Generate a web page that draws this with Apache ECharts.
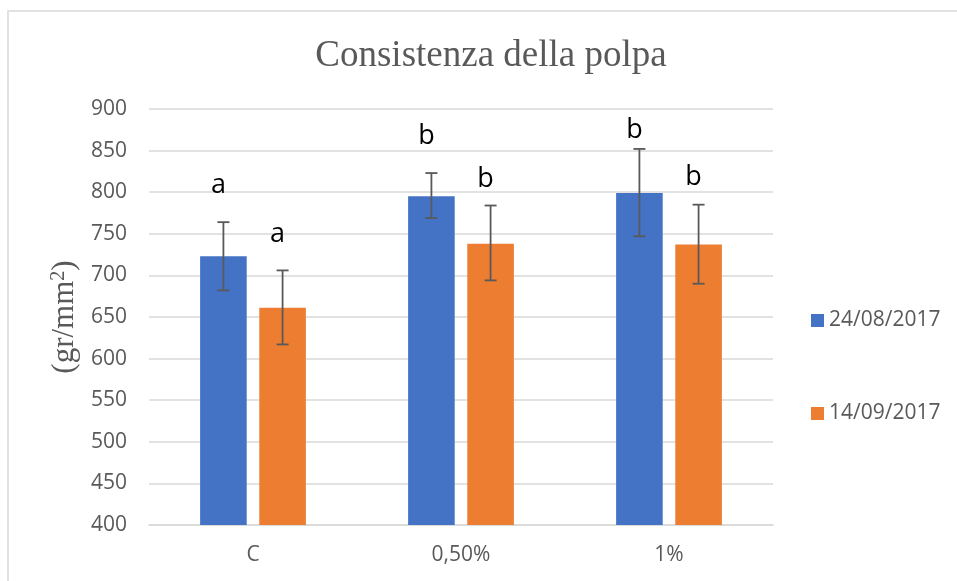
<!DOCTYPE html>
<html>
<head>
<meta charset="utf-8">
<title>Consistenza della polpa</title>
<script src="https://cdn.jsdelivr.net/npm/echarts@6/dist/echarts.min.js"></script>
<style>
    html, body { margin: 0; padding: 0; background: #fff; }
    #chart { width: 957px; height: 581px; }
</style>
</head>
<body>
<div id="chart"></div>
<script>
    // dati
    var categorie = ['C', '0,50%', '1%'];
    var date = ['24/08/2017', '14/09/2017'];
    var valori24 = [723, 795, 799];
    var valori14 = [661, 738, 737];
    // barre d'errore: minimo e massimo
    var errMin24 = [682, 769, 747];
    var errMax24 = [764, 823, 852];
    var errMin14 = [617, 694, 690];
    var errMax14 = [706, 784, 785];
    // lettere di significatività e altezza (in gr/mm2)
    var lettere24 = ['a', 'b', 'b'];
    var lettere14 = ['a', 'b', 'b'];
    var posLettere24 = [808, 867, 874];
    var posLettere14 = [749, 815, 818];
    var yTicks = [400, 450, 500, 550, 600, 650, 700, 750, 800, 850, 900];

    var colori = ['#4472C4', '#ED7D31'];
    var BAR_W = 0.224;   // frazione della categoria
    var BAR_GAP = 0.27;  // frazione della barra

    function erroriData(min, max, pos, lett) {
        return categorie.map(function (c, i) {
            return [i, min[i], max[i], pos[i], lett[i]];
        });
    }

    // disegna barra d'errore + lettera, spostata sulla barra giusta
    function makeRender(segno) {
        return function (params, api) {
            var band = api.size([1, 0])[0];
            var bw = band * BAR_W;
            var dx = segno * bw * (1 + BAR_GAP) / 2;
            var lo = api.coord([api.value(0), api.value(1)]);
            var hi = api.coord([api.value(0), api.value(2)]);
            var tp = api.coord([api.value(0), api.value(3)]);
            var x = lo[0] + dx;
            var cap = 6;
            var stile = { stroke: '#595959', lineWidth: 1.8 };
            return {
                type: 'group',
                children: [
                    { type: 'line', shape: { x1: x, y1: lo[1], x2: x, y2: hi[1] }, style: stile },
                    { type: 'line', shape: { x1: x - cap, y1: lo[1], x2: x + cap, y2: lo[1] }, style: stile },
                    { type: 'line', shape: { x1: x - cap, y1: hi[1], x2: x + cap, y2: hi[1] }, style: stile },
                    {
                        type: 'text',
                        x: x - 5,
                        y: tp[1],
                        style: {
                            text: api.value(4),
                            fill: '#000',
                            font: '27px "Open Sans", sans-serif',
                            textAlign: 'center',
                            textVerticalAlign: 'middle'
                        }
                    }
                ]
            };
        };
    }

    var myChart = echarts.init(document.getElementById('chart'));
    myChart.setOption({
        backgroundColor: '#fff',
        animation: false,
        graphic: [{
            type: 'rect',
            shape: { x: 8, y: 11, width: 1000, height: 700 },
            style: { fill: 'none', stroke: '#d9d9d9', lineWidth: 1.5 },
            silent: true
        }],
        title: {
            text: 'Consistenza della polpa',
            left: 486,
            textAlign: 'center',
            top: 33,
            textStyle: {
                fontFamily: '"Liberation Serif", "DejaVu Serif", serif',
                fontSize: 37,
                fontWeight: 'normal',
                color: '#595959'
            }
        },
        legend: {
            orient: 'vertical',
            left: 806,
            top: 305,
            itemWidth: 13,
            itemHeight: 13,
            itemGap: 72,
            icon: 'rect',
            data: date,
            textStyle: {
                fontFamily: '"Open Sans", sans-serif',
                fontSize: 21,
                color: '#595959'
            }
        },
        grid: { left: 149, right: 184, top: 109, bottom: 56 },
        xAxis: {
            type: 'category',
            data: categorie,
            axisLine: { lineStyle: { color: '#d9d9d9', width: 1.5 } },
            axisTick: { show: false },
            axisLabel: {
                margin: 20,
                fontFamily: '"Open Sans", sans-serif',
                fontSize: 21,
                color: '#595959'
            }
        },
        yAxis: {
            type: 'value',
            min: yTicks[0],
            max: yTicks[yTicks.length - 1],
            interval: 50,
            name: '(gr/mm{sup|2})',
            nameLocation: 'middle',
            nameGap: 66,
            nameRotate: 90,
            nameTextStyle: {
                fontFamily: '"Liberation Serif", "DejaVu Serif", serif',
                fontSize: 31,
                color: '#595959',
                rich: {
                    sup: {
                        fontFamily: '"Liberation Serif", "DejaVu Serif", serif',
                        fontSize: 20,
                        color: '#595959',
                        verticalAlign: 'top'
                    }
                }
            },
            axisLine: { show: false },
            axisTick: { show: false },
            splitLine: { lineStyle: { color: '#d9d9d9', width: 1.5 } },
            axisLabel: {
                margin: 22,
                fontFamily: '"Open Sans", sans-serif',
                fontSize: 21,
                color: '#595959'
            }
        },
        series: [
            {
                name: date[0],
                type: 'bar',
                barWidth: (BAR_W * 100) + '%',
                barGap: (BAR_GAP * 100) + '%',
                itemStyle: { color: colori[0] },
                data: valori24
            },
            {
                name: date[1],
                type: 'bar',
                barWidth: (BAR_W * 100) + '%',
                itemStyle: { color: colori[1] },
                data: valori14
            },
            {
                type: 'custom',
                renderItem: makeRender(-1),
                encode: { x: 0, y: [1, 2, 3] },
                data: erroriData(errMin24, errMax24, posLettere24, lettere24),
                z: 10
            },
            {
                type: 'custom',
                renderItem: makeRender(1),
                encode: { x: 0, y: [1, 2, 3] },
                data: erroriData(errMin14, errMax14, posLettere14, lettere14),
                z: 10
            }
        ]
    });
</script>
</body>
</html>
